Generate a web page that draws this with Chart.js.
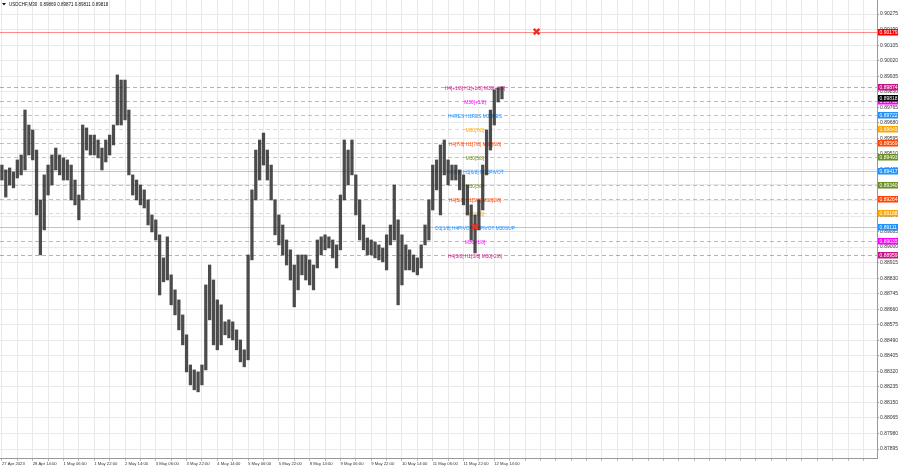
<!DOCTYPE html>
<html>
<head>
<meta charset="utf-8">
<script src="https://cdn.jsdelivr.net/npm/chart.js@4.4.0/dist/chart.umd.min.js"></script>
<style>
    html, body { margin: 0; padding: 0; background: #fff; }
    #wrap { width: 900px; height: 468px; }
</style>
</head>
<body>
<div id="wrap"><canvas id="priceChart" width="900" height="468"></canvas></div>
<script>
const symbolTitle = 'USDCHF,M30  0.89869 0.89871 0.89811 0.89818';

// one label every 8 two-hour bars
const timeLabels = ['27 Apr 2023', '28 Apr 14:00', '1 May 06:00', '1 May 22:00', '2 May 14:00',
    '3 May 06:00', '3 May 22:00', '4 May 14:00', '5 May 06:00', '5 May 22:00', '8 May 14:00',
    '9 May 06:00', '9 May 22:00', '10 May 14:00', '11 May 06:00', '11 May 22:00', '12 May 14:00'];

// two-hour high / low ranges
const barHighs = [
    0.89449, 0.89422, 0.89433, 0.89411, 0.89477, 0.89504, 0.89750, 0.89668, 0.89641, 0.89531,
    0.89258, 0.89395, 0.89449, 0.89504, 0.89542, 0.89504, 0.89488, 0.89477, 0.89449, 0.89367,
    0.89285, 0.89668, 0.89652, 0.89613, 0.89613, 0.89586, 0.89542, 0.89586, 0.89613, 0.89668,
    0.89942, 0.89914, 0.89914, 0.89750, 0.89395, 0.89367, 0.89340, 0.89313, 0.89258, 0.89176,
    0.89149, 0.89067, 0.88941, 0.89056, 0.88848, 0.88766, 0.88711, 0.88629, 0.88520, 0.88355,
    0.88328, 0.88317, 0.88355, 0.88793, 0.88902, 0.88820, 0.88711, 0.88684, 0.88591, 0.88602,
    0.88591, 0.88547, 0.88492, 0.88438, 0.88957, 0.89313, 0.89531, 0.89586, 0.89624, 0.89531,
    0.89449, 0.89258, 0.89176, 0.89121, 0.89039, 0.88985, 0.88902, 0.88957, 0.88957, 0.88957,
    0.88930, 0.88902, 0.89039, 0.89056, 0.89067, 0.89056, 0.89039, 0.89012, 0.89285, 0.89586,
    0.89531, 0.89586, 0.89395, 0.89258, 0.89121, 0.89050, 0.89039, 0.89028, 0.89012, 0.88995,
    0.89067, 0.89121, 0.89340, 0.89149, 0.89067, 0.89012, 0.88985, 0.88957, 0.88941, 0.89012,
    0.89121, 0.89258, 0.89449, 0.89477, 0.89559, 0.89586, 0.89477, 0.89449, 0.89449, 0.89422,
    0.89395, 0.89340, 0.89231, 0.89176, 0.89258, 0.89449, 0.89641, 0.89750, 0.89860, 0.89871,
    0.89876
];
const barLows = [
    0.89367, 0.89274, 0.89340, 0.89324, 0.89378, 0.89395, 0.89422, 0.89504, 0.89477, 0.89176,
    0.88957, 0.89094, 0.89285, 0.89340, 0.89422, 0.89395, 0.89367, 0.89367, 0.89258, 0.89231,
    0.89149, 0.89258, 0.89531, 0.89504, 0.89504, 0.89488, 0.89422, 0.89466, 0.89504, 0.89559,
    0.89668, 0.89668, 0.89696, 0.89395, 0.89285, 0.89258, 0.89231, 0.89214, 0.89121, 0.89083,
    0.89039, 0.88738, 0.88810, 0.88820, 0.88684, 0.88629, 0.88547, 0.88465, 0.88317, 0.88246,
    0.88219, 0.88208, 0.88246, 0.88328, 0.88602, 0.88465, 0.88438, 0.88465, 0.88520, 0.88503,
    0.88492, 0.88438, 0.88372, 0.88345, 0.88383, 0.88930, 0.89258, 0.89367, 0.89449, 0.89367,
    0.89258, 0.89067, 0.89012, 0.88957, 0.88902, 0.88820, 0.88673, 0.88766, 0.88848, 0.88820,
    0.88793, 0.88766, 0.88886, 0.88957, 0.88985, 0.88995, 0.88941, 0.88886, 0.88985, 0.89258,
    0.89340, 0.89395, 0.89176, 0.89039, 0.88985, 0.88957, 0.88957, 0.88941, 0.88930, 0.88919,
    0.88875, 0.89012, 0.89039, 0.88684, 0.88793, 0.88875, 0.88875, 0.88864, 0.88848, 0.88886,
    0.89012, 0.89039, 0.89203, 0.89313, 0.89176, 0.89395, 0.89340, 0.89367, 0.89367, 0.89313,
    0.89231, 0.89176, 0.89039, 0.88968, 0.89094, 0.89203, 0.89395, 0.89531, 0.89668, 0.89794,
    0.89811
];

const priceTicks = [0.87895, 0.87980, 0.88065, 0.88150, 0.88235, 0.88320, 0.88405, 0.88490,
    0.88575, 0.88660, 0.88745, 0.88830, 0.88915, 0.89000, 0.89085, 0.89170, 0.89255, 0.89340,
    0.89425, 0.89510, 0.89595, 0.89680, 0.89765, 0.89850, 0.89935, 0.90020, 0.90105, 0.90190, 0.90275];

// murrey levels + target line
const levelPrices = [0.90179, 0.89874, 0.89798, 0.89722, 0.89645, 0.89569, 0.89493, 0.89417,
    0.89340, 0.89264, 0.89188, 0.89111, 0.89035, 0.88959];
const levelNames = ['', 'H4[+1/8] H1[+1/8] M30[+2/8]', 'M30[+1/8]', 'H4RES H1RES M30RES', 'M30[7/8]',
    'H4[7/8] H1[7/8] M30[6/8]', 'M30[5/8]', 'H4[6/8] H1[6/8] M30PIVOT', 'M30[3/8]',
    'H4[5/8] H1[5/8] M30[2/8]', 'M30[1/8]', 'D1[1/8] H4PIVOT H1PIVOT M30SUP', 'M30[-1/8]',
    'H4[3/8] H1[3/8] M30[-2/8]'];
const levelColors = ['#ff0000', '#c71585', '#ff00ff', '#1e90ff', '#ffa500', '#ff4500', '#6b8e23',
    '#1e90ff', '#6b8e23', '#ff4500', '#ffa500', '#1e90ff', '#ff00ff', '#c71585'];
const levelSolid = [true, false, false, false, false, false, false, true, false, false, false, true, false, false];

const bidPrice = 0.89818;
const markerBars = [123, 139];
const markerPrices = [0.89111, 0.90179];

const SLOT_COUNT = 228;
const LABEL_BAR = 123;

const slots = Array.from({length: SLOT_COUNT}, (_, i) => i);

const levelPlugin = {
    id: 'levels',
    beforeDatasetsDraw(chart) {
        const {ctx, chartArea: a, scales: {x, y}} = chart;
        ctx.save();
        ctx.beginPath();
        ctx.rect(a.left, a.top, a.width, a.height);
        ctx.clip();
        levelPrices.forEach((p, k) => {
            const py = Math.round(y.getPixelForValue(p)) + 0.5;
            ctx.globalAlpha = 0.45;
            ctx.strokeStyle = levelColors[k];
            ctx.lineWidth = 1;
            ctx.setLineDash(levelSolid[k] ? [] : [4, 3]);
            ctx.beginPath();
            ctx.moveTo(a.left, py);
            ctx.lineTo(a.right, py);
            ctx.stroke();
            ctx.globalAlpha = 1;
            if (levelNames[k]) {
                ctx.font = '4.8px "Liberation Sans", Arial, sans-serif';
                ctx.textAlign = 'center';
                ctx.textBaseline = 'middle';
                ctx.fillStyle = levelColors[k];
                ctx.fillText(levelNames[k], x.getPixelForValue(LABEL_BAR), py + 1);
            }
        });
        ctx.restore();
    },
    afterDraw(chart) {
        const {ctx, chartArea: a, scales: {y}} = chart;
        ctx.save();
        const box = (p, color) => {
            const py = Math.round(y.getPixelForValue(p));
            ctx.fillStyle = color;
            ctx.fillRect(a.right + 1, py - 3, 20, 6.5);
            ctx.fillStyle = '#fff';
            ctx.font = '5px "Liberation Sans", Arial, sans-serif';
            ctx.textAlign = 'left';
            ctx.textBaseline = 'middle';
            ctx.fillText(p.toFixed(5), a.right + 2.5, py + 0.3);
        };
        levelPrices.forEach((p, k) => box(p, levelColors[k]));
        box(bidPrice, '#000');

        // title
        ctx.fillStyle = '#111';
        ctx.beginPath();
        ctx.moveTo(2, 3); ctx.lineTo(6, 3); ctx.lineTo(4, 5.5); ctx.closePath();
        ctx.fill();
        ctx.font = '4.5px "Liberation Sans", Arial, sans-serif';
        ctx.textAlign = 'left';
        ctx.textBaseline = 'middle';
        ctx.fillText(symbolTitle, 9, 4.5);
        ctx.restore();
    }
};

const ctx = document.getElementById('priceChart').getContext('2d');
new Chart(ctx, {
    type: 'bar',
    data: {
        labels: slots,
        datasets: [
            {
                type: 'line',
                data: slots.map(i => {
                    const m = markerBars.indexOf(i);
                    return m >= 0 ? markerPrices[m] : null;
                }),
                showLine: false,
                pointStyle: 'crossRot',
                pointRadius: 4,
                pointBorderWidth: 2.5,
                borderColor: '#e8332d',
                backgroundColor: '#e8332d',
                clip: false,
                order: 0
            },
            {
                data: barLows.map((lo, i) => [lo, barHighs[i]]),
                backgroundColor: 'rgba(45, 45, 45, 0.85)',
                borderWidth: 0,
                barThickness: 2.6,
                order: 1
            }
        ]
    },
    options: {
        responsive: false,
        animation: false,
        layout: { padding: 0, autoPadding: false },
        plugins: { legend: { display: false }, tooltip: { enabled: false } },
        scales: {
            x: {
                offset: true,
                grid: { offset: false, color: '#e9e9e9', tickLength: 3, tickColor: '#bbb' },
                border: { color: '#999' },
                ticks: {
                    autoSkip: false,
                    maxRotation: 0,
                    align: 'start',
                    padding: 0,
                    color: '#333',
                    font: { family: '"Liberation Sans", Arial, sans-serif', size: 4.2 },
                    callback: (value, index) => {
                        if (index % 8 === 0 && index / 8 < timeLabels.length) return timeLabels[index / 8];
                        if (index % 4 === 0) return '';
                        return null;
                    }
                },
                afterFit: scale => {
                    scale.height = 10;
                    scale.paddingLeft = 0;
                    scale.paddingRight = 0;
                }
            },
            y: {
                position: 'right',
                min: 0.87846,
                max: 0.90352,
                grid: { color: '#e9e9e9', tickLength: 2, tickColor: '#999' },
                border: { color: '#999' },
                afterBuildTicks: scale => {
                    scale.ticks = priceTicks.map(v => ({ value: v }));
                },
                ticks: {
                    padding: 1,
                    color: '#333',
                    font: { family: '"Liberation Sans", Arial, sans-serif', size: 5 },
                    callback: v => v.toFixed(5)
                },
                afterFit: scale => {
                    scale.width = 23;
                    scale.paddingTop = 0;
                    scale.paddingBottom = 0;
                }
            }
        }
    },
    plugins: [levelPlugin]
});
</script>
</body>
</html>
